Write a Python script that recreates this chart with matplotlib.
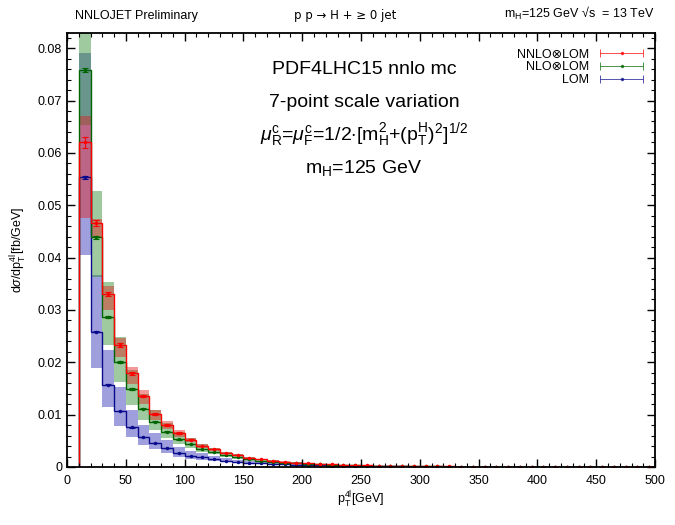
import numpy as np
import matplotlib
matplotlib.use('Agg')
import matplotlib.pyplot as plt
from matplotlib.ticker import MultipleLocator, FuncFormatter
from matplotlib.legend_handler import HandlerErrorbar

plt.rcParams['font.family'] = ['Liberation Sans', 'DejaVu Sans']
plt.rcParams['mathtext.fontset'] = 'custom'
plt.rcParams['mathtext.rm'] = 'Liberation Sans'
plt.rcParams['mathtext.it'] = 'Liberation Sans:italic'
plt.rcParams['mathtext.sf'] = 'Liberation Sans'

# bin edges in pT (GeV), 10 GeV bins from 10 to 500
edges = np.arange(10, 501, 10)

# central values [fb/GeV]
nnlo = [0.0620, 0.0466, 0.0330, 0.0233, 0.0179, 0.0136, 0.0101, 0.0080, 0.0065, 0.0052,
        0.0041, 0.0034, 0.0027, 0.0023, 0.0018, 0.0015, 0.0012, 0.0010, 0.00085, 0.00072,
        0.00060, 0.00050, 0.00043, 0.00036, 0.00031, 0.00026, 0.00022, 0.00019, 0.00016, 0.00014,
        0.00012, 0.00010, 0.000088, 0.000076, 0.000065, 0.000056, 0.000049, 0.000042, 0.000036, 0.000031,
        0.000027, 0.000024, 0.000021, 0.000018, 0.000016, 0.000014, 0.000012, 0.000010, 0.000009]
nlo = [0.0758, 0.0439, 0.0287, 0.0200, 0.0149, 0.0111, 0.0086, 0.0067, 0.0053, 0.0044,
       0.0034, 0.0029, 0.0023, 0.0019, 0.0015, 0.0012, 0.0010, 0.00083, 0.00070, 0.00059,
       0.00050, 0.00042, 0.00035, 0.00030, 0.00025, 0.00021, 0.00018, 0.00015, 0.00013, 0.00011,
       0.000095, 0.000082, 0.000071, 0.000061, 0.000053, 0.000046, 0.000040, 0.000035, 0.000030, 0.000026,
       0.000023, 0.000020, 0.000017, 0.000015, 0.000013, 0.000011, 0.0000098, 0.0000085, 0.0000074]
lom = [0.0553, 0.0258, 0.0157, 0.0107, 0.0076, 0.0057, 0.0046, 0.0036, 0.0027, 0.0021,
       0.0019, 0.0015, 0.0012, 0.0010, 0.0008, 0.0007, 0.0006, 0.0005, 0.0004, 0.00034,
       0.00029, 0.00025, 0.00021, 0.00018, 0.00015, 0.00013, 0.00011, 0.000095, 0.000082, 0.00007,
       0.00006, 0.000052, 0.000045, 0.000039, 0.000034, 0.000029, 0.000025, 0.000022, 0.000019, 0.000016,
       0.000014, 0.000012, 0.000011, 0.0000095, 0.0000082, 0.0000071, 0.0000062, 0.0000054, 0.0000047]

# scale variation bands for the visible bins (10-250 GeV)
nnlo_hi = [0.0670, 0.0473, 0.0345, 0.0246, 0.0191, 0.0147, 0.0108, 0.0087, 0.0070, 0.0056,
           0.0044, 0.0037, 0.0029, 0.0025, 0.0019, 0.0016, 0.0013, 0.0011, 0.00092, 0.00078,
           0.00065, 0.00054, 0.00047, 0.00039]
nnlo_lo = [0.0475, 0.0437, 0.0300, 0.0210, 0.0158, 0.0120, 0.0090, 0.0072, 0.0058, 0.0047,
           0.0037, 0.0030, 0.0024, 0.0021, 0.0016, 0.0013, 0.0011, 0.0009, 0.00076, 0.00065,
           0.00054, 0.00045, 0.00038, 0.00032]
nlo_hi = [0.0870, 0.0527, 0.0353, 0.0248, 0.0185, 0.0140, 0.0108, 0.0084, 0.0067, 0.0055,
          0.0043, 0.0036, 0.0029, 0.0024, 0.0019, 0.0015, 0.0013, 0.00104, 0.00088, 0.00074,
          0.00063, 0.00053, 0.00044, 0.00038]
nlo_lo = [0.0653, 0.0363, 0.0233, 0.0162, 0.0118, 0.0090, 0.0071, 0.0055, 0.0044, 0.0036,
          0.0028, 0.0024, 0.0019, 0.0016, 0.0012, 0.0010, 0.0008, 0.00068, 0.00057, 0.00048,
          0.00041, 0.00034, 0.00029, 0.00025]
lom_hi = [0.0790, 0.0366, 0.0223, 0.0153, 0.0109, 0.0080, 0.0065, 0.0051, 0.0039, 0.0030,
          0.0027, 0.0021, 0.0017, 0.0014, 0.0011, 0.0010, 0.00085, 0.0007, 0.00057, 0.00048,
          0.00041, 0.00035, 0.0003, 0.00026]
lom_lo = [0.0405, 0.0189, 0.0115, 0.0078, 0.0057, 0.0042, 0.0034, 0.0026, 0.0020, 0.0016,
          0.0014, 0.0011, 0.0009, 0.00075, 0.0006, 0.0005, 0.00045, 0.00037, 0.0003, 0.00025,
          0.00021, 0.00018, 0.00015, 0.00013]

# statistical errors on the first bins
nnlo_err = [0.0010, 0.0006, 0.0004, 0.0003, 0.0003, 0.0002, 0.0002, 0.00015, 0.00012, 0.0001]
nlo_err = [0.0004, 0.0003, 0.0002, 0.00015, 0.00012, 0.0001, 0.0001, 0.00008, 0.00006, 0.00005]
lom_err = [0.0002, 0.0001, 0.0001, 0.00008, 0.00006, 0.00005, 0.00004, 0.00003, 0.00003, 0.00002]

fig = plt.figure(figsize=(6.75, 5.25), dpi=100)
ax = fig.add_axes([0.0993, 0.1105, 0.8711, 0.8267])

centres = 0.5*(edges[:-1] + edges[1:])
nb = len(nnlo_hi)

series = [
    (lom, lom_lo, lom_hi, lom_err, '#2a2ab4', '#0a0a8c', 'LOM'),
    (nlo, nlo_lo, nlo_hi, nlo_err, '#2a8a2a', '#006400', 'NLO\u2297LOM'),
    (nnlo, nnlo_lo, nnlo_hi, nnlo_err, '#e02020', '#ff0000', 'NNLO\u2297LOM'),
]

# bands first
for cen, lo, hi, err, bcol, lcol, lab in series:
    ax.stairs(hi, edges[:nb+1], baseline=lo, fill=True, color=bcol, alpha=0.45, lw=0)

handles = {}
for cen, lo, hi, err, bcol, lcol, lab in series:
    ax.stairs(cen, edges, baseline=0, color=lcol, lw=1.0)
    ne = len(err)
    ax.errorbar(centres[:ne], cen[:ne], yerr=err, fmt='.', color=lcol, ms=3,
                elinewidth=0.8, capsize=2, capthick=0.8)
    ax.plot(centres[ne:], cen[ne:], '.', color=lcol, ms=3)
    handles[lab] = ax.errorbar([np.nan], [np.nan], xerr=[1], fmt='.', color=lcol, ms=3,
                               elinewidth=0.7, capsize=3, capthick=0.7, alpha=0.7)

ax.set_xlim(0, 500)
ax.set_ylim(0, 0.0829)
ax.xaxis.set_major_locator(MultipleLocator(50))
ax.xaxis.set_minor_locator(MultipleLocator(10))
ax.yaxis.set_major_locator(MultipleLocator(0.01))
ax.yaxis.set_minor_locator(MultipleLocator(0.002))
ax.yaxis.set_major_formatter(FuncFormatter(lambda v, p: '0' if abs(v) < 1e-9 else '%.2f' % v))
ax.tick_params(which='both', direction='in', top=True, right=True, labelsize=9)
ax.tick_params(which='major', length=6, width=1)
ax.tick_params(which='minor', length=3, width=0.8)
ax.tick_params(axis='x', pad=6)
for s in ax.spines.values():
    s.set_linewidth(1.3)

ax.set_xlabel(r'p$_\mathrm{T}^\mathrm{4l}$[GeV]', fontsize=9, labelpad=2)
ax.set_ylabel(r'd$\sigma$/dp$_\mathrm{T}^\mathrm{4l}$[fb/GeV]', fontsize=9, labelpad=6)

# header line above the frame
fig.text(0.111, 0.958, 'NNLOJET Preliminary', fontsize=9, ha='left', va='bottom')
fig.text(0.512, 0.958, 'p p \u2192 H + \u2265 0 jet', fontsize=8.5, ha='center', va='bottom',
         family=['DejaVu Sans'])
fig.text(0.970, 0.958, 'm$_\\mathrm{H}$=125 GeV \u221As  = 13 TeV', fontsize=9,
         ha='right', va='bottom')

# annotations inside the frame
tx = 0.505
ax.text(tx, 0.915, 'PDF4LHC15 nnlo mc', transform=ax.transAxes, fontsize=14, ha='center', va='center')
ax.text(tx, 0.840, '7-point scale variation', transform=ax.transAxes, fontsize=14, ha='center', va='center')
ax.text(tx, 0.765, r'$\mu_\mathrm{R}^\mathrm{c}$=$\mu_\mathrm{F}^\mathrm{c}$=1/2$\cdot$[m$_\mathrm{H}^2$+(p$_\mathrm{T}^\mathrm{H}$)$^2$]$^{1/2}$',
        transform=ax.transAxes, fontsize=14, ha='center', va='center')
ax.text(tx, 0.690, r'm$_\mathrm{H}$=125 GeV', transform=ax.transAxes, fontsize=14, ha='center', va='center')

labs = ['NNLO\u2297LOM', 'NLO\u2297LOM', 'LOM']
ax.legend([handles[l] for l in labs], labs, loc='upper right', bbox_to_anchor=(0.99, 0.975),
          frameon=False, markerfirst=False, fontsize=9, handlelength=3.6, labelspacing=0.05,
          handletextpad=0.8, borderaxespad=0,
          handler_map={type(handles['LOM']): HandlerErrorbar(xerr_size=1.7)})

fig.savefig('out.png', dpi=100)
